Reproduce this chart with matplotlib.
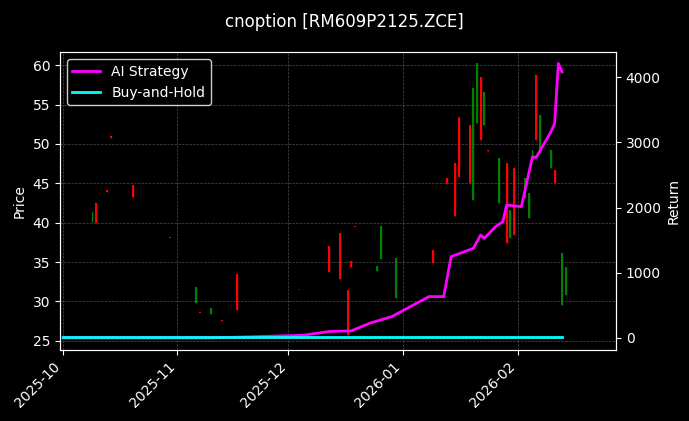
import matplotlib
matplotlib.use("Agg")
import matplotlib.pyplot as plt
import matplotlib.dates as mdates
import pandas as pd
import numpy as np

dates = ["2025-10-09","2025-10-10","2025-10-13","2025-10-14","2025-10-20","2025-10-30",
 "2025-11-06","2025-11-07","2025-11-10","2025-11-13","2025-11-17","2025-12-04","2025-12-12",
 "2025-12-15","2025-12-17","2025-12-18","2025-12-19","2025-12-25","2025-12-26","2025-12-30",
 "2026-01-09","2026-01-13","2026-01-15","2026-01-16","2026-01-19","2026-01-20","2026-01-21",
 "2026-01-22","2026-01-23","2026-01-24","2026-01-27","2026-01-29","2026-01-30","2026-01-31",
 "2026-02-03","2026-02-04","2026-02-05","2026-02-06","2026-02-07","2026-02-10","2026-02-11",
 "2026-02-13","2026-02-14"]
opens  = [40.1,42.5,44.1,51.0,44.8,38.1,29.8,28.6,28.4,27.6,33.5,31.5,37.0,38.7,31.5,35.1,39.5,33.9,35.4,30.5,36.5,45.7,47.6,53.4,52.4,42.9,52.6,58.5,52.4,49.2,42.5,47.6,38.1,47.0,43.1,40.6,48.0,58.7,48.8,46.9,46.7,29.6,30.8]
closes = [41.4,40.0,43.9,50.8,43.3,38.0,31.8,28.5,29.2,27.5,28.9,31.4,33.7,32.9,25.8,34.4,39.4,34.5,39.6,35.5,34.9,44.9,40.9,45.8,45.0,57.1,60.3,50.5,56.6,49.1,48.2,37.4,41.6,38.4,45.7,43.8,49.2,50.5,53.7,49.2,45.0,36.2,34.4]
highs = [max(o,c) for o,c in zip(opens,closes)]
lows  = [min(o,c) for o,c in zip(opens,closes)]

ret_dates = ["2025-10-01","2025-11-10","2025-11-17","2025-12-05","2025-12-12","2025-12-18","2025-12-23",
 "2025-12-29","2026-01-08","2026-01-12","2026-01-14","2026-01-20","2026-01-22","2026-01-23",
 "2026-01-26","2026-01-28","2026-01-29","2026-02-02","2026-02-05","2026-02-06","2026-02-10",
 "2026-02-11","2026-02-12","2026-02-13"]
ai_ret = [0,0,10,40,97,107,225,327,633,633,1246,1374,1578,1528,1706,1783,2038,2013,2779,2769,3162,3290,4210,4081]
bh_dates = ["2025-10-01","2026-02-13"]
bh_ret = [20,20]

fig = plt.figure(figsize=(6.89,4.21), dpi=100, facecolor="black")
ax = fig.add_axes([0.087,0.169,0.807,0.707], facecolor="black")
d = pd.to_datetime(dates)
for di,o,h,l,c in zip(d,opens,highs,lows,closes):
    col = "green" if c>=o else "red"
    ax.vlines(di,l,h,color=col,lw=1)
    ax.bar(di,abs(c-o) if abs(c-o)>0.15 else 0.15,bottom=min(o,c),width=0.5,color=col)
ax.set_ylim(23.86,61.65)
ax.set_xlim(pd.Timestamp("2025-09-30 05:00"),pd.Timestamp("2026-02-27 14:00"))
ax.set_ylabel("Price",color="white")
ax.grid(True,color="gray",ls="--",lw=0.5,alpha=0.6)
ax.xaxis.set_major_locator(mdates.MonthLocator())
ax.xaxis.set_major_formatter(mdates.DateFormatter("%Y-%m"))
plt.setp(ax.get_xticklabels(),rotation=45,ha="right")
ax2 = ax.twinx()
ax2.plot(pd.to_datetime(ret_dates),ai_ret,color="magenta",lw=2,label="AI Strategy")
ax2.plot(pd.to_datetime(bh_dates),bh_ret,color="cyan",lw=2,label="Buy-and-Hold")
ax2.set_ylim(-184,4383)
ax2.set_ylabel("Return",color="white")
for a in (ax,ax2):
    a.tick_params(colors="white")
    for s in a.spines.values(): s.set_color("white")
leg = ax2.legend(loc="upper left",facecolor="black",edgecolor="white",labelcolor="white")
fig.suptitle("cnoption [RM609P2125.ZCE]",color="white",y=0.97)
fig.savefig("out.png",facecolor="black")
